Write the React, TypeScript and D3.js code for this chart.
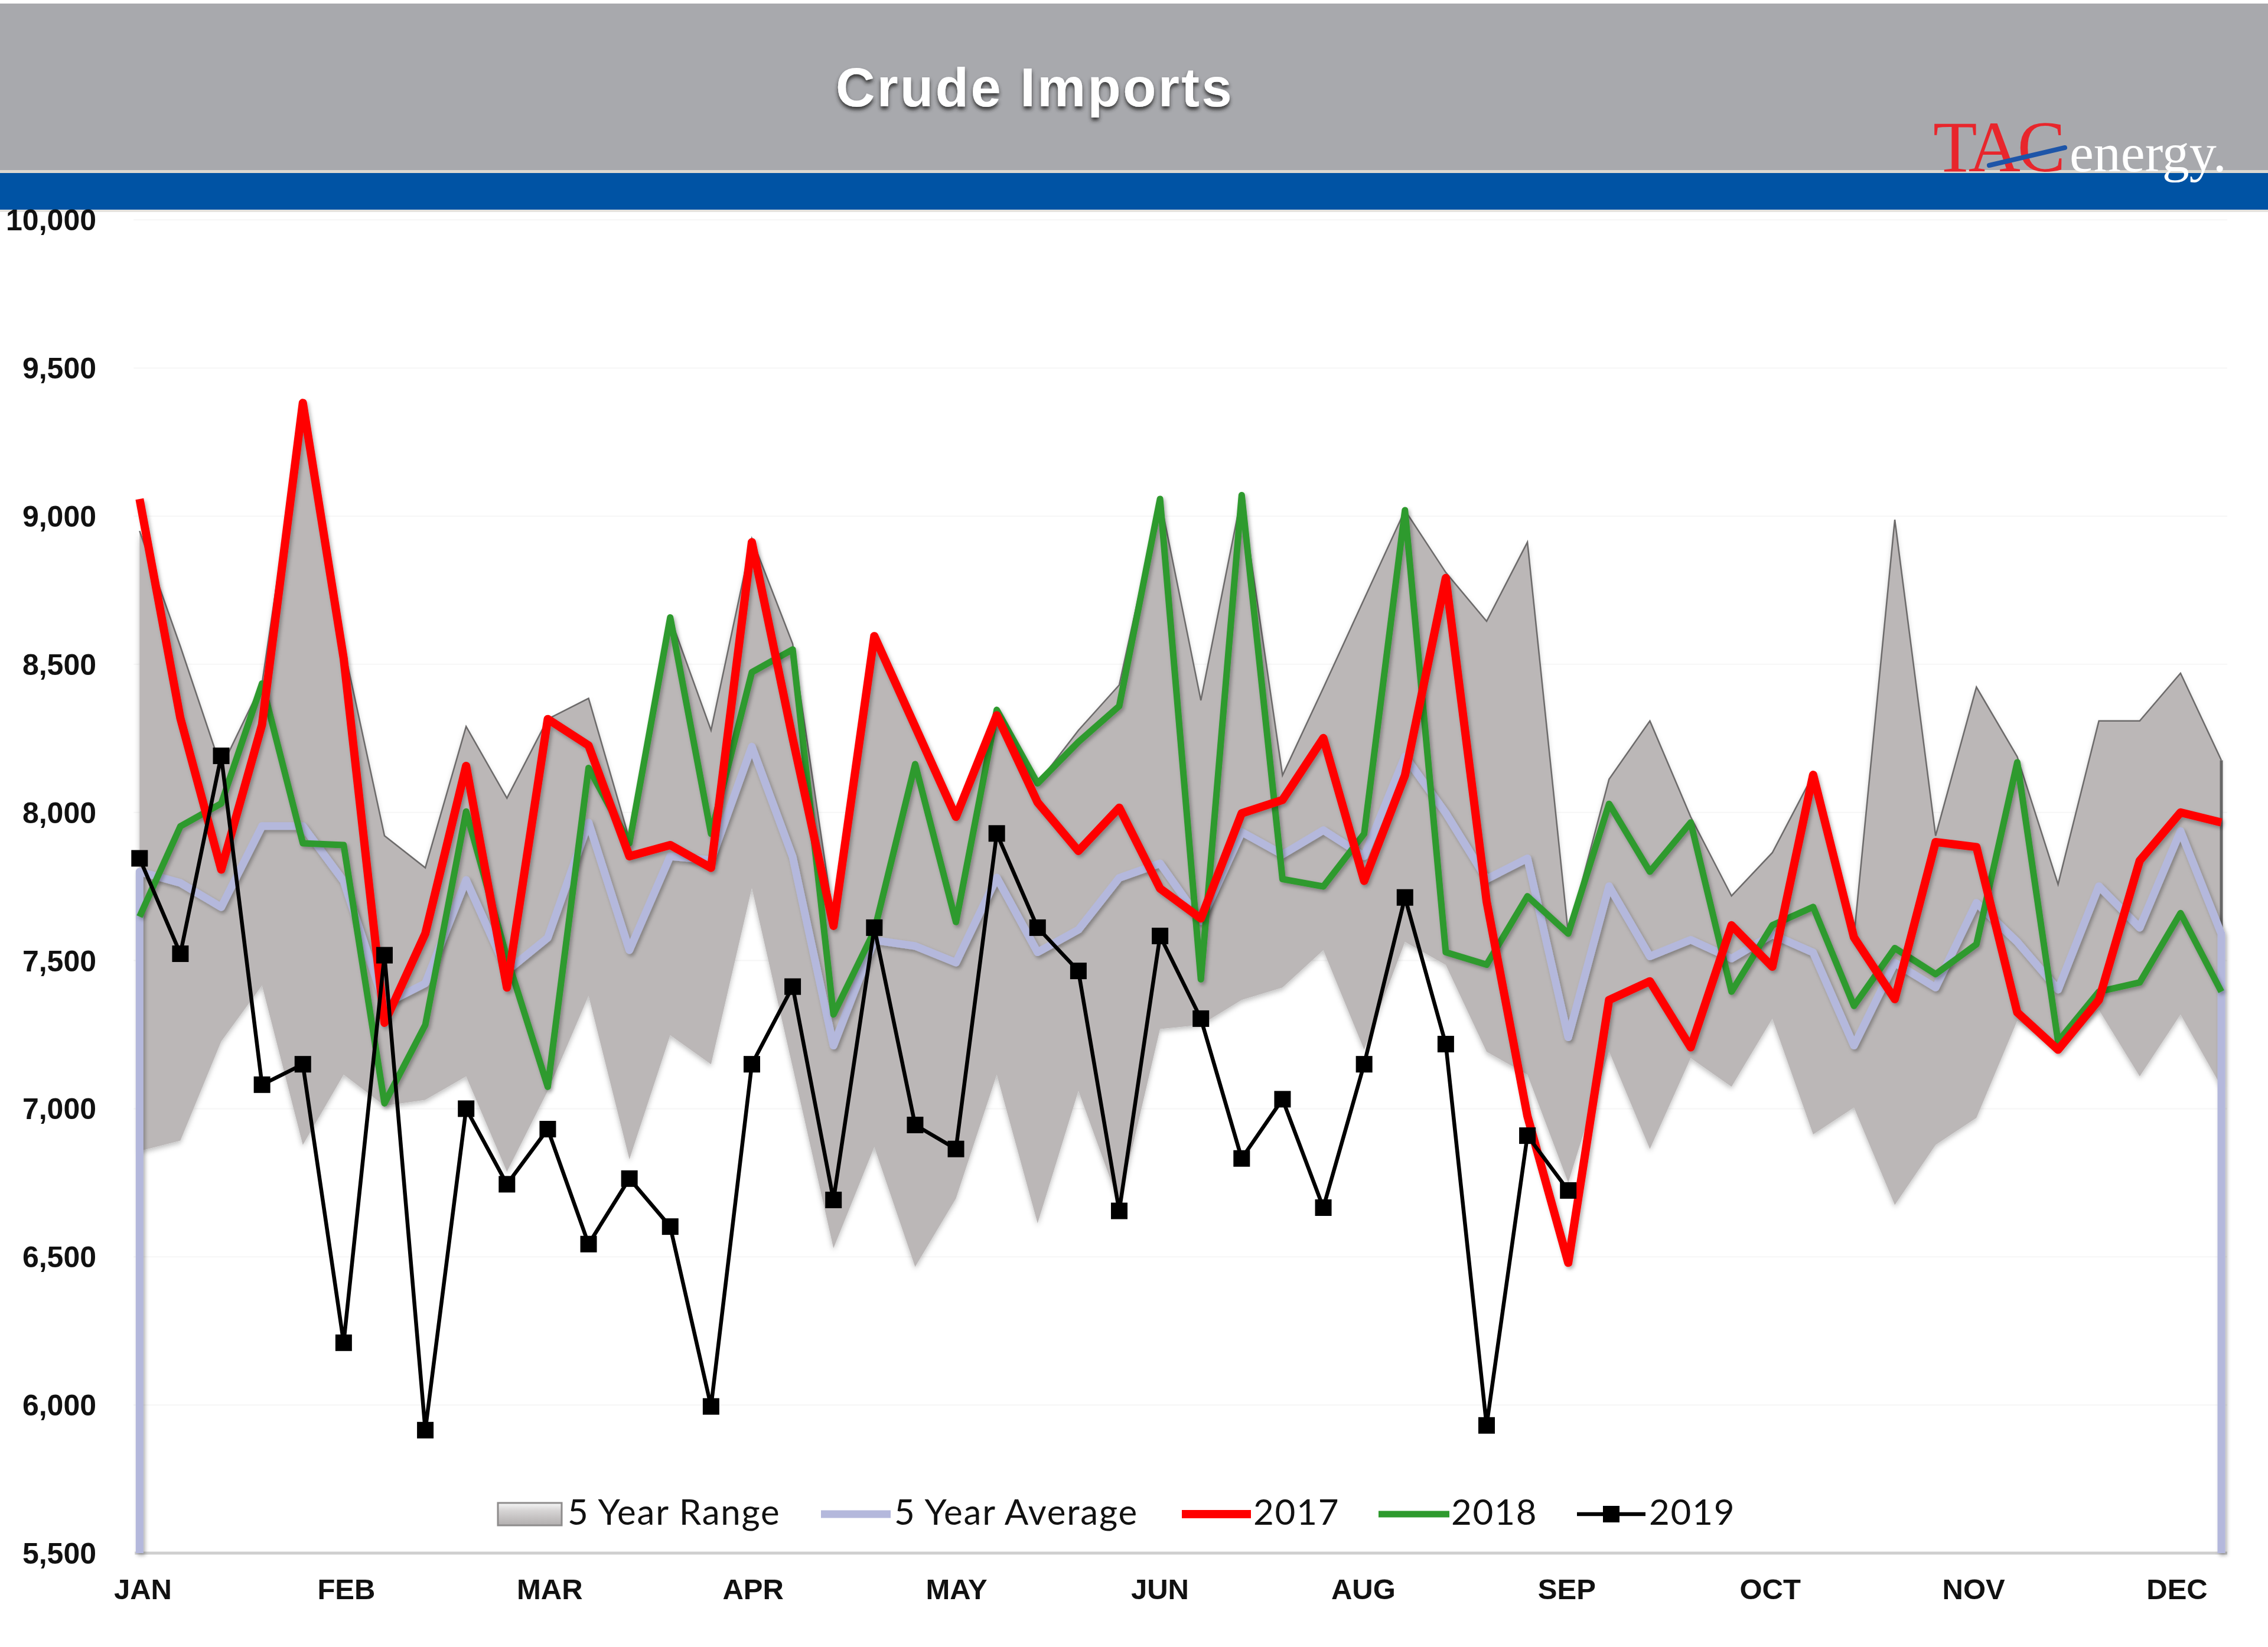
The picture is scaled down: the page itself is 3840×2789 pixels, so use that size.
import React from "react";
import * as d3 from "d3";

// ---------- DATA ----------
const weekIndex: number[] = Array.from({ length: 52 }, (_, i) => i);
const monthLabels = ["JAN", "FEB", "MAR", "APR", "MAY", "JUN", "AUG", "SEP", "OCT", "NOV", "DEC"]; // every 5th week
const yTicks = [5500, 6000, 6500, 7000, 7500, 8000, 8500, 9000, 9500, 10000];

const rangeHigh = [
  8950, 8560, 8150, 8435, 9370, 8560, 7921, 7813, 8290, 8048,
  8315, 8385, 7909, 8658, 8277, 8924, 8569, 7640, 8600, 8300,
  7990, 8350, 8098, 8277, 8430, 9060, 8378, 9071, 8125, 8420,
  8720, 9020, 8810, 8645, 8912, 7591, 8112, 8309, 7985, 7718,
  7864, 8127, 7580, 8988, 7921, 8423, 8188, 7757, 8309, 8309,
  8470, 8176,
];
const rangeLow = [
  6857, 6892, 7227, 7416, 6878, 7115, 7010, 7030, 7109, 6787,
  7060, 7381, 6829, 7248, 7150, 7745, 7140, 6529, 6871, 6466,
  6697, 7115, 6613, 7060, 6680, 7269, 7283, 7367, 7409, 7535,
  7199, 7563, 7485, 7192, 7115, 6750, 7193, 6864, 7171, 7074,
  7304, 6913, 7004, 6675, 6878, 6969, 7297, 7213, 7333, 7109,
  7318, 7074,
];
const avg5 = [
  7800, 7762, 7680, 7954, 7954, 7768, 7353, 7423, 7772, 7465,
  7577, 7966, 7535, 7852, 7839, 8222, 7850, 7213, 7569, 7549,
  7493, 7780, 7528, 7604, 7779, 7828, 7633, 7934, 7858, 7940,
  7852, 8189, 7998, 7775, 7845, 7241, 7751, 7514, 7570, 7507,
  7588, 7527, 7213, 7493, 7409, 7695, 7563, 7402, 7751, 7611,
  7937, 7590,
];
const y2017 = [
  9058, 8318, 7807, 8296, 9382, 8520, 7290, 7591, 8157, 7409,
  8315, 8226, 7852, 7890, 7813, 8912, 8250, 7617, 8595, 8290,
  7985, 8328, 8034, 7870, 8016, 7743, 7642, 7997, 8042, 8251,
  7769, 8125, 8791, 7700, 6975, 6480, 7367, 7430, 7207, 7619,
  7479, 8127, 7578, 7370, 7900, 7883, 7325, 7199, 7367, 7837,
  8000, 7966,
];
const y2018 = [
  7648, 7953, 8030, 8435, 7896, 7890, 7018, 7283, 8003, 7510,
  7074, 8150, 7896, 8658, 7928, 8473, 8550, 7318, 7600, 8163,
  7630, 8346, 8098, 8238, 8359, 9058, 7437, 9071, 7775, 7750,
  7928, 9020, 7528, 7486, 7717, 7591, 8029, 7800, 7966, 7395,
  7619, 7681, 7347, 7542, 7454, 7555, 8169, 7227, 7395, 7426,
  7660, 7395,
];
const y2019 = [
  7845, 7523, 8191, 7081, 7150, 6210, 7518, 5915, 7000, 6745,
  6931, 6543, 6764, 6602, 5995, 7150, 7412, 6692, 7611, 6945,
  6864, 7929, 7611, 7465, 6655, 7583, 7304, 6832, 7032, 6666,
  7150, 7713, 7218, 5931, 6909, 6724,
];

// ---------- LAYOUT ----------
const W = 3840;
const H = 2789;
const X0 = 236.3;
const X1 = 3761;
const YTOP = 372.3;
const YBOT = 2630;

const COLORS = {
  header: "#a8a9ad",
  blue: "#0053a4",
  range: "#bbb7b7",
  rangeEdge: "#6c6a6a",
  avg: "#b4b8dc",
  r2017: "#ff0000",
  g2018: "#2e9a2e",
  b2019: "#000000",
};

export default function App() {
  const x = d3.scaleLinear().domain([0, 51]).range([X0, X1]);
  const y = d3.scaleLinear().domain([5500, 10000]).range([YBOT, YTOP]);
  const xLabel = d3.scalePoint<string>().domain(monthLabels).range([242, 3686]);

  const area = d3
    .area<number>()
    .x((i) => x(i))
    .y0((i) => y(rangeLow[i]))
    .y1((i) => y(rangeHigh[i]));
  const highLine = d3
    .line<number>()
    .x((i) => x(i))
    .y((i) => y(rangeHigh[i]));

  const line = d3
    .line<[number, number]>()
    .x((d) => x(d[0]))
    .y((d) => y(d[1]));

  const avgPts: [number, number][] = [
    [0, 5500],
    ...avg5.map((v, i) => [i, v] as [number, number]),
    [51, 5500],
  ];
  const pts = (arr: number[]) => arr.map((v, i) => [i, v] as [number, number]);

  const LY = 2564;
  const legendFont = "Lato, 'Open Sans', 'Liberation Sans', sans-serif";

  return (
    <svg
      width={W}
      height={H}
      viewBox={`0 0 ${W} ${H}`}
      style={{ position: "absolute", left: 0, top: 0, background: "#ffffff" }}
    >
      <defs>
        <filter id="shadow" x="-5%" y="-5%" width="110%" height="115%">
          <feDropShadow dx="3" dy="4" stdDeviation="3" floodColor="#000" floodOpacity="0.3" />
        </filter>
        <filter id="areaShadow" x="-5%" y="-5%" width="110%" height="115%">
          <feDropShadow dx="0" dy="4" stdDeviation="4" floodColor="#000" floodOpacity="0.25" />
        </filter>
        <filter id="titleShadow" x="-10%" y="-30%" width="120%" height="170%">
          <feDropShadow dx="0" dy="5" stdDeviation="3" floodColor="#2a2a2a" floodOpacity="0.9" />
        </filter>
        <linearGradient id="swatchGrad" x1="0" y1="0" x2="0" y2="1">
          <stop offset="0" stopColor="#f6f6f6" />
          <stop offset="0.35" stopColor="#d6d4d4" />
          <stop offset="1" stopColor="#b2afaf" />
        </linearGradient>
      </defs>

      {/* header */}
      <rect x={0} y={6} width={W} height={283} fill={COLORS.header} />
      <rect x={0} y={288} width={W} height={5} fill="#dcd8d0" />
      <rect x={0} y={293} width={W} height={62} fill={COLORS.blue} />
      <rect x={0} y={355} width={W} height={4} fill="#e4e2de" />
      <text
        x={1752}
        y={180}
        textAnchor="middle"
        fill="#ffffff"
        fontFamily="'Liberation Sans', Arial, sans-serif"
        fontWeight="bold"
        fontSize={92}
        letterSpacing={3.5}
        filter="url(#titleShadow)"
      >
        Crude Imports
      </text>

      {/* logo */}
      <g>
        <text
          x={3273}
          y={290}
          fill="#e8262c"
          fontFamily="'Liberation Serif', 'DejaVu Serif', serif"
          fontSize={122}
          letterSpacing={-5}
        >
          TAC
        </text>
        <text
          x={3504}
          y={290}
          fill="#ffffff"
          fontFamily="'Liberation Serif', 'DejaVu Serif', serif"
          fontSize={92}
        >
          energy.
        </text>
        <line x1={3368} y1={280} x2={3496} y2={250} stroke="#1d55a8" strokeWidth={8} strokeLinecap="round" />
      </g>

      {/* gridlines */}
      {yTicks.slice(1).map((t) => (
        <line key={t} x1={X0 - 10} x2={X1 + 10} y1={y(t)} y2={y(t)} stroke="#f6f6f6" strokeWidth={2} />
      ))}

      {/* y labels */}
      {yTicks.map((t) => (
        <text
          key={t}
          x={163}
          y={y(t)}
          dy="0.36em"
          textAnchor="end"
          fontFamily="'Liberation Sans', Arial, sans-serif"
          fontWeight="bold"
          fontSize={50}
          fill="#111"
        >
          {d3.format(",")(t)}
        </text>
      ))}

      {/* 5 year range */}
      <g filter="url(#areaShadow)">
        <path d={area(weekIndex) || ""} fill={COLORS.range} />
      </g>
      <path d={highLine(weekIndex) || ""} fill="none" stroke={COLORS.rangeEdge} strokeWidth={2.5} strokeLinejoin="miter" />
      <line x1={x(51)} x2={x(51)} y1={y(rangeHigh[51])} y2={y(rangeLow[51])} stroke="#666" strokeWidth={5} />

      {/* axis line */}
      <line x1={X0 - 8} x2={X1 + 10} y1={YBOT} y2={YBOT} stroke="#cfcfcf" strokeWidth={5} />

      {/* 5 year average */}
      <path
        d={line(avgPts) || ""}
        fill="none"
        stroke={COLORS.avg}
        strokeWidth={13}
        strokeLinejoin="round"
        filter="url(#shadow)"
      />

      {/* 2018 */}
      <path
        d={line(pts(y2018)) || ""}
        fill="none"
        stroke={COLORS.g2018}
        strokeWidth={11}
        strokeLinejoin="round"
        filter="url(#shadow)"
      />
      {/* 2017 */}
      <path
        d={line(pts(y2017)) || ""}
        fill="none"
        stroke={COLORS.r2017}
        strokeWidth={14}
        strokeLinejoin="round"
        filter="url(#shadow)"
      />
      {/* 2019 */}
      <path d={line(pts(y2019)) || ""} fill="none" stroke={COLORS.b2019} strokeWidth={6.5} strokeLinejoin="round" />
      {y2019.map((v, i) => (
        <rect key={i} x={x(i) - 14} y={y(v) - 14} width={28} height={28} fill="#000" />
      ))}

      {/* x labels */}
      {monthLabels.map((m) => (
        <text
          key={m}
          x={xLabel(m)}
          y={2708}
          textAnchor="middle"
          fontFamily="'Liberation Sans', Arial, sans-serif"
          fontWeight="bold"
          fontSize={49}
          fill="#111"
        >
          {m}
        </text>
      ))}

      {/* legend */}
      <g fontFamily={legendFont} fontSize={60} fill="#111" letterSpacing={1.8}>
        <rect x={843} y={2545} width={108} height={38} fill="url(#swatchGrad)" stroke="#8e8c8c" strokeWidth={3} />
        <text x={961} y={2582}>5 Year Range</text>

        <line x1={1390} x2={1508} y1={LY} y2={LY} stroke={COLORS.avg} strokeWidth={13} />
        <text x={1514} y={2582}>5 Year Average</text>

        <line x1={2001} x2={2118} y1={LY} y2={LY} stroke={COLORS.r2017} strokeWidth={14} />
        <text x={2122} y={2582}>2017</text>

        <line x1={2334} x2={2454} y1={LY} y2={LY} stroke={COLORS.g2018} strokeWidth={11} />
        <text x={2457} y={2582}>2018</text>

        <line x1={2670} x2={2786} y1={LY} y2={LY} stroke="#000" strokeWidth={6.5} />
        <rect x={2714} y={LY - 14} width={28} height={28} fill="#000" />
        <text x={2792} y={2582}>2019</text>
      </g>
    </svg>
  );
}
